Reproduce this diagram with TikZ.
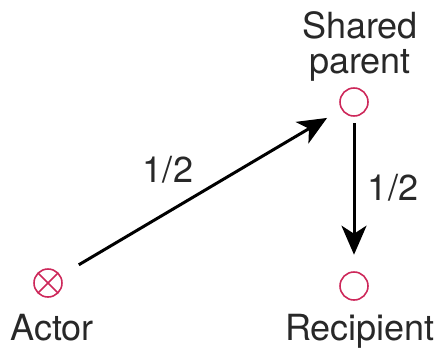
\documentclass[tikz,border=0pt]{standalone}
\usepackage{fontspec}
\setmainfont{TeX Gyre Heros}
\usetikzlibrary{arrows.meta, positioning}
\definecolor{nodered}{RGB}{205,40,90}
\definecolor{labelgray}{RGB}{40,40,40}

\begin{document}
\begin{tikzpicture}[
    every node/.style={font=\fontsize{20.5}{20}\selectfont, text=labelgray},
    kin/.style={circle, draw=nodered, line width=0.9pt, minimum size=0.56cm, inner sep=0pt},
    relarrow/.style={line width=1.7pt, -{Stealth[length=5.8mm, width=5mm, inset=1.6mm]}},
]
\useasboundingbox (0,0) rectangle (8.76,6.98);

% === Individuals ===
\node[kin, path picture={
    \draw[nodered, line width=0.9pt] (path picture bounding box.north west) -- (path picture bounding box.south east);
    \draw[nodered, line width=0.9pt] (path picture bounding box.north east) -- (path picture bounding box.south west);
}] (actor) at (0.96,1.32) {};
\node[kin] (parent) at (7.08,4.94) {};
\node[kin] (recipient) at (7.08,1.26) {};

% === Names ===
\node[anchor=base, inner sep=0pt] (actorname) at (1.04,0.18) {Actor};
\node[anchor=base, inner sep=0pt] (recipientname) at (7.2,0.18) {Recipient};
\node[anchor=south, inner sep=0pt, align=center] (parentname) at (7.2,5.35) {Shared\\parent};

% === Relatedness arrows ===
\draw[relarrow, shorten <=0.42cm, shorten >=0.33cm] (actor) -- (parent);
\draw[relarrow, shorten <=0.13cm, shorten >=0.33cm] (parent) -- (recipient);

% === Coefficients ===
\node[inner sep=0pt] (rdiag) at (3.36,3.58) {1/2};
\node[inner sep=0pt] (rvert) at (7.86,3.22) {1/2};

\end{tikzpicture}
\end{document}
